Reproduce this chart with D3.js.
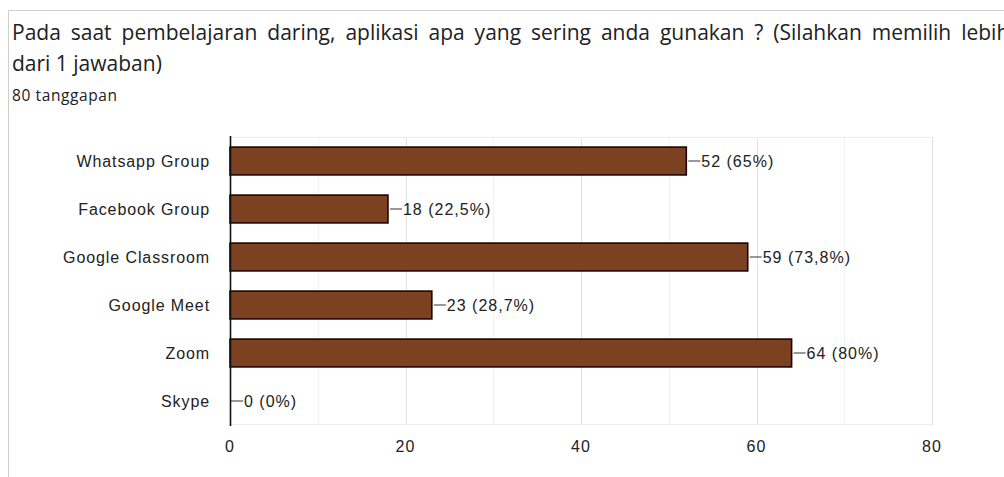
<!DOCTYPE html>
<html>
<head>
<meta charset="utf-8">
<script src="https://cdn.jsdelivr.net/npm/d3@7"></script>
<style>
  body { margin: 0; background: #fff; }
  svg { display: block; }
</style>
</head>
<body>
<svg width="1004" height="477"></svg>
<script>
const categories = ["Whatsapp Group", "Facebook Group", "Google Classroom", "Google Meet", "Zoom", "Skype"]
const counts     = [52, 18, 59, 23, 64, 0]
const percents   = ["65%", "22,5%", "73,8%", "28,7%", "80%", "0%"]
const xTicks     = [0, 20, 40, 60, 80]
const minorTicks = [10, 30, 50, 70]

const svg = d3.select("svg")

// card border (top and left visible)
svg.append("line").attr("x1", 8.5).attr("x2", 1004).attr("y1", 10.5).attr("y2", 10.5)
	.attr("stroke", "#cfcfcf")
svg.append("line").attr("x1", 8.5).attr("x2", 8.5).attr("y1", 10.5).attr("y2", 477)
	.attr("stroke", "#cfcfcf")

svg.append("text").attr("x", 12).attr("y", 40)
	.attr("font-family", "Open Sans").attr("font-size", 21).attr("fill", "#202124")
	.attr("word-spacing", 4.5)
	.text("Pada saat pembelajaran daring, aplikasi apa yang sering anda gunakan ? (Silahkan memilih lebih")
svg.append("text").attr("x", 12).attr("y", 71)
	.attr("font-family", "Open Sans").attr("font-size", 21).attr("fill", "#202124")
	.text("dari 1 jawaban)")
svg.append("text").attr("x", 12).attr("y", 101)
	.attr("font-family", "Open Sans").attr("font-size", 15.5).attr("letter-spacing", 0.6)
	.attr("fill", "#202124")
	.text("80 tanggapan")

const x = d3.scaleLinear().domain([0, 80]).range([230, 932])
const y = d3.scaleBand().domain(categories).range([137, 425]).paddingInner(0.42).paddingOuter(0.21)

// gridlines
svg.append("g").selectAll("line").data(minorTicks).join("line")
	.attr("x1", d => Math.round(x(d)) + 0.5).attr("x2", d => Math.round(x(d)) + 0.5)
	.attr("y1", 137).attr("y2", 425).attr("stroke", "#f2f2f2")
svg.append("g").selectAll("line").data(xTicks.slice(1)).join("line")
	.attr("x1", d => Math.round(x(d)) + 0.5).attr("x2", d => Math.round(x(d)) + 0.5)
	.attr("y1", 137).attr("y2", 425).attr("stroke", "#e0e0e0")
svg.append("line").attr("x1", 230).attr("x2", 932).attr("y1", 137.5).attr("y2", 137.5).attr("stroke", "#ececec")
svg.append("line").attr("x1", 230).attr("x2", 932).attr("y1", 424.5).attr("y2", 424.5).attr("stroke", "#ececec")

// bars
svg.append("g").selectAll("rect").data(categories.filter((c, i) => counts[i] > 0)).join("rect")
	.attr("x", x(0))
	.attr("y", d => y(d))
	.attr("width", d => x(counts[categories.indexOf(d)]) - x(0))
	.attr("height", y.bandwidth())
	.attr("fill", "#7b4120")
	.attr("stroke", "#1c0600")
	.attr("stroke-width", 1.6)

// value labels with leader lines
const labels = svg.append("g")
categories.forEach((c, i) => {
	const ex = x(counts[i]) + (counts[i] > 0 ? 2 : 1)
	const cy = y(c) + y.bandwidth() / 2
	labels.append("line").attr("x1", ex).attr("x2", ex + 12).attr("y1", cy).attr("y2", cy)
		.attr("stroke", "#555").attr("stroke-width", 1.2)
	labels.append("text").attr("x", ex + 13).attr("y", cy + 5.5)
		.attr("font-family", "Liberation Sans").attr("font-size", 16).attr("letter-spacing", 1)
		.attr("fill", "#222")
		.text(`${counts[i]} (${percents[i]})`)
})

// axis line
svg.append("line").attr("x1", 230.5).attr("x2", 230.5).attr("y1", 136).attr("y2", 426)
	.attr("stroke", "#111").attr("stroke-width", 1.6)

// category labels
svg.append("g").selectAll("text").data(categories).join("text")
	.attr("x", 210).attr("y", d => y(d) + y.bandwidth() / 2 + 5.5)
	.attr("text-anchor", "end")
	.attr("font-family", "Liberation Sans").attr("font-size", 16).attr("letter-spacing", 0.9)
	.attr("fill", "#222")
	.text(d => d)

// x tick labels
svg.append("g").selectAll("text").data(xTicks).join("text")
	.attr("x", d => x(d)).attr("y", 452)
	.attr("text-anchor", "middle")
	.attr("font-family", "Liberation Sans").attr("font-size", 16).attr("letter-spacing", 1)
	.attr("fill", "#222")
	.text(d => d)
</script>
</body>
</html>
